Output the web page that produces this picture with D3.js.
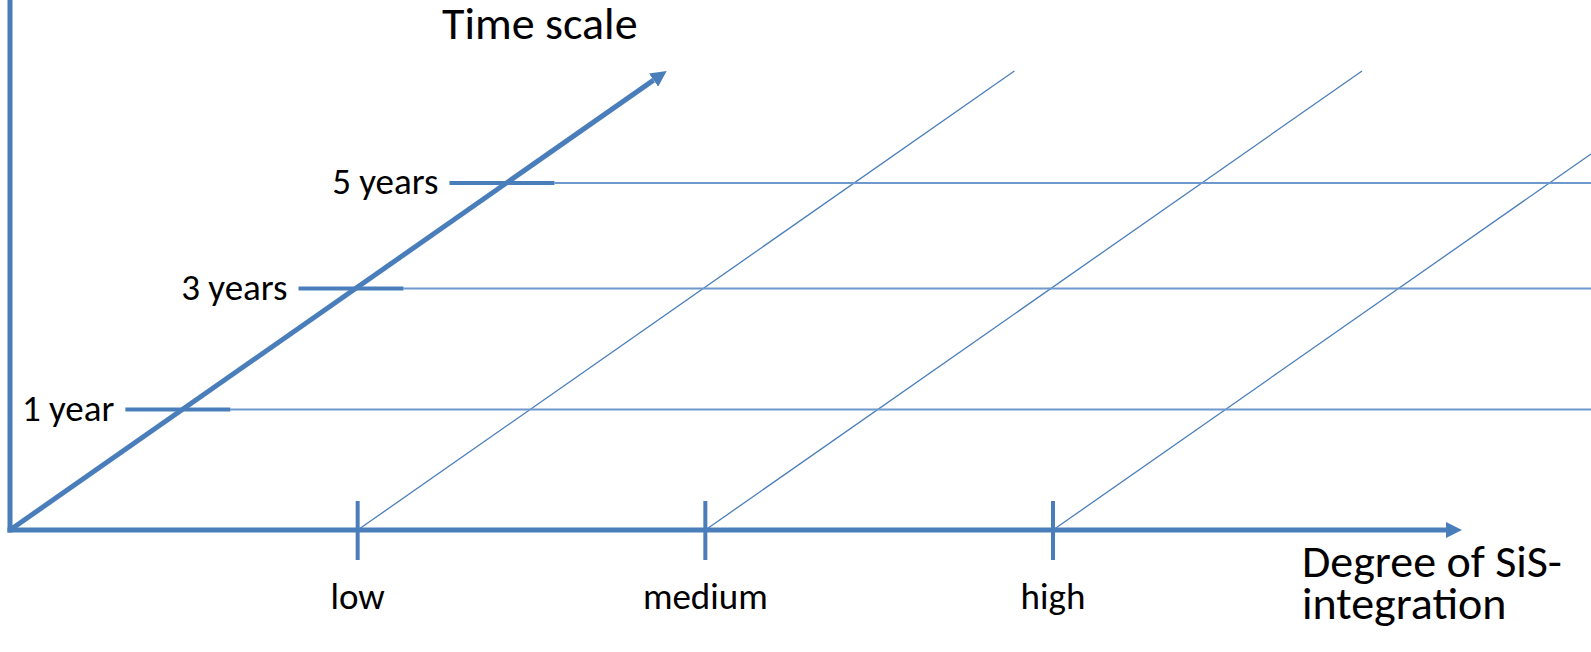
<!DOCTYPE html>
<html>
<head>
<meta charset="utf-8">
<script src="https://cdn.jsdelivr.net/npm/d3@7"></script>
<style>
  html, body { margin: 0; padding: 0; background: #fff; overflow: hidden; }
  text { font-family: Carlito, Calibri, Lato, sans-serif; fill: #000; }
</style>
</head>
<body>
<div id="chart"></div>
<script>
var svgWidth = 1591;
var svgHeight = 652;

// chart data
var degreeLabels = ["low", "medium", "high"];
var timeLabels = ["1 year", "3 years", "5 years"];
var timeYears = [1, 3, 5];
var xTitle = ["Degree of SiS-", "integration"];
var yTitle = "Time scale";

var blue = "#4a7ebb";

var svg = d3.select("#chart")
  .append("svg")
  .attr("width", svgWidth)
  .attr("height", svgHeight);

// arrow head
svg.append("defs").append("marker")
  .attr("id", "head")
  .attr("markerUnits", "userSpaceOnUse")
  .attr("viewBox", "0 -8 16 16")
  .attr("refX", 0)
  .attr("refY", 0)
  .attr("markerWidth", 16)
  .attr("markerHeight", 16)
  .attr("orient", "auto")
  .append("path")
  .attr("d", "M0,-8L16,0L0,8Z")
  .attr("fill", blue);

// scales: degree along x, time along the receding diagonal
var originX = 10, baseY = 530, topY = 71;
var xScale = d3.scalePoint()
  .domain(["origin"].concat(degreeLabels))
  .range([originX, 1053]);

var yScale = d3.scaleLinear()
  .domain([0, 1, 3, 5])
  .range([baseY, 409.5, 288.5, 183]);

// horizontal shift of the diagonal per pixel of height
var slope = 656.7 / (baseY - topY);
function diagX(x0, y) { return x0 + (baseY - y) * slope; }

// thin receding lines from each degree tick
svg.selectAll(".depth")
  .data(degreeLabels)
  .enter()
  .append("line")
  .attr("class", "depth")
  .attr("x1", d => xScale(d))
  .attr("y1", baseY)
  .attr("x2", d => diagX(xScale(d), topY))
  .attr("y2", topY)
  .attr("stroke", blue)
  .attr("stroke-width", 1.3);

// thin horizontal lines at each time level
svg.selectAll(".level")
  .data(timeYears)
  .enter()
  .append("line")
  .attr("class", "level")
  .attr("x1", d => diagX(originX, yScale(d)) + 48)
  .attr("x2", svgWidth + 5)
  .attr("y1", d => yScale(d))
  .attr("y2", d => yScale(d))
  .attr("stroke", "#6f98cc")
  .attr("stroke-width", 2);

// time ticks
svg.selectAll(".ttick")
  .data(timeYears)
  .enter()
  .append("line")
  .attr("class", "ttick")
  .attr("x1", d => diagX(originX, yScale(d)) - 57)
  .attr("x2", d => diagX(originX, yScale(d)) + 48)
  .attr("y1", d => yScale(d))
  .attr("y2", d => yScale(d))
  .attr("stroke", blue)
  .attr("stroke-width", 4);

svg.selectAll(".tlabel")
  .data(timeYears)
  .enter()
  .append("text")
  .attr("class", "tlabel")
  .attr("x", d => diagX(originX, yScale(d)) - 68)
  .attr("y", d => yScale(d) + 11)
  .attr("text-anchor", "end")
  .attr("font-size", "37px")
  .text((d, i) => timeLabels[i]);

// vertical axis
svg.append("line")
  .attr("x1", originX).attr("x2", originX)
  .attr("y1", -10).attr("y2", baseY + 2.5)
  .attr("stroke", blue)
  .attr("stroke-width", 5);

// horizontal axis with arrow
var xEnd = 1462;
svg.append("line")
  .attr("x1", originX - 2.5).attr("x2", xEnd - 16)
  .attr("y1", baseY).attr("y2", baseY)
  .attr("stroke", blue)
  .attr("stroke-width", 5)
  .attr("marker-end", "url(#head)");

// time scale diagonal with arrow
var tipX = diagX(originX, topY);
var len = Math.hypot(tipX - originX, baseY - topY);
var ux = (tipX - originX) / len, uy = (topY - baseY) / len;
svg.append("line")
  .attr("x1", originX).attr("y1", baseY)
  .attr("x2", tipX - 16 * ux).attr("y2", topY - 16 * uy)
  .attr("stroke", blue)
  .attr("stroke-width", 5)
  .attr("marker-end", "url(#head)");

// degree ticks
svg.selectAll(".xtick")
  .data(degreeLabels)
  .enter()
  .append("line")
  .attr("class", "xtick")
  .attr("x1", d => xScale(d)).attr("x2", d => xScale(d))
  .attr("y1", 501).attr("y2", 560)
  .attr("stroke", blue)
  .attr("stroke-width", 4);

svg.selectAll(".xlabel")
  .data(degreeLabels)
  .enter()
  .append("text")
  .attr("class", "xlabel")
  .attr("x", d => xScale(d))
  .attr("y", 609)
  .attr("text-anchor", "middle")
  .attr("font-size", "37px")
  .text(d => d);

// axis titles
svg.append("text")
  .attr("x", 442)
  .attr("y", 39)
  .attr("font-size", "46px")
  .text(yTitle);

svg.append("text")
  .attr("x", 1302)
  .attr("y", 577)
  .attr("font-size", "46px")
  .selectAll("tspan")
  .data(xTitle)
  .enter()
  .append("tspan")
  .attr("x", 1302)
  .attr("dy", (d, i) => i === 0 ? 0 : 42)
  .text(d => d);
</script>
</body>
</html>
